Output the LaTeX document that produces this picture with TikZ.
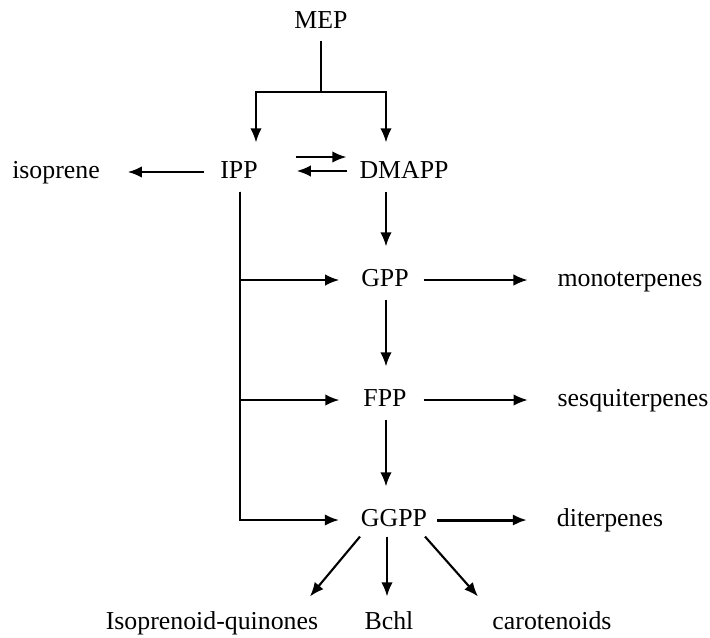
\documentclass[tikz,border=0pt]{standalone}
\usepackage{fontspec}
\setmainfont{Liberation Serif}
\usepackage{tikz}
\usetikzlibrary{positioning,calc,arrows.meta}

\begin{document}
\begin{tikzpicture}[-{Latex[length=8pt,width=6.5pt]}, x=0.02cm, y=-0.02cm, line width=1.2pt,
    main/.style = {inner sep=0pt, font=\fontsize{14.7}{17}\selectfont, text height=0.34cm, text depth=0.08cm},
    thin/.style = {line width=0.9pt}, heavy/.style = {line width=1.7pt}]
        \useasboundingbox (0,0) rectangle (710,637);

        \node[main] (1) at (321,22) {MEP};
        \node[main] (2) at (239,172) {IPP};
        \node[main] (3) at (404,172) {DMAPP};
        \node[main] (4) at (56,172) {isoprene};
        \node[main] (5) at (385,280) {GPP};
        \node[main] (6) at (385,400) {FPP};
        \node[main] (7) at (394,520) {GGPP};
        \node[main] (8) at (630,280) {monoterpenes};
        \node[main] (9) at (633,400) {sesquiterpenes};
        \node[main] (10) at (610,520) {diterpenes};
        \node[main] (11) at (212,623) {Isoprenoid-quinones};
        \node[main] (12) at (389,623) {Bchl};
        \node[main] (13) at (552,623) {carotenoids};

        \coordinate (j) at (321,92);
        \coordinate (t) at ($(2.south)+(1,8)$);

        \draw [-] ($(1.south)+(0,7)$) -- (j);
        \draw (j) -| ($(2.north)+(17,-18)$);
        \draw (j) -| ($(3.north)+(-18,-18)$);

        \draw ($(2.east)+(37,-15)$) -- ($(3.west)+(-12,-15)$);
        \draw ($(3.west)+(-11,-1)$) -- ($(2.east)+(38,-1)$);
        \draw ($(2.west)+(-15,0)$) -- ($(4.east)+(27,0)$);

        \draw (t) |- ($(5.west)+(-21,0)$);
        \draw (t) |- ($(6.west)+(-23,0)$);
        \draw (t) |- ($(7.west)+(-21,0)$);

        \draw ($(3.south)+(-18,8)$) -- ($(5.north)+(1,-22)$);
        \draw ($(5.south)+(1,8)$) -- ($(6.north)+(1,-22)$);
        \draw ($(6.south)+(1,8)$) -- ($(7.north)+(-8,-22)$);

        \draw [thin] ($(5.east)+(14,0)$) -- ($(8.west)+(-29,0)$);
        \draw [thin] ($(6.east)+(16,0)$) -- ($(9.west)+(-29,0)$);
        \draw [heavy] ($(7.east)+(9,0)$) -- ($(10.west)+(-29,0)$);

        \draw ($(7.south)+(-34,5)$) -- ($(11.north)+(98,-15)$);
        \draw ($(7.south)+(-7,5)$) -- ($(12.north)+(-2,-15)$);
        \draw ($(7.south)+(31,5)$) -- ($(13.north)+(-74,-15)$);
    \end{tikzpicture}
\end{document}
